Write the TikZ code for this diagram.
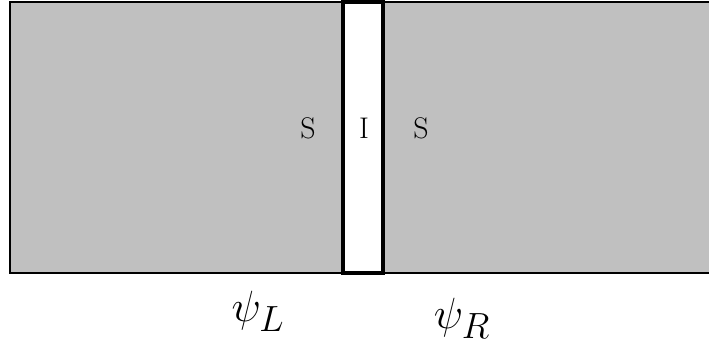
\documentclass[tikz,border=0pt]{standalone}
\definecolor{slabgray}{RGB}{192,192,192}
\begin{document}
\begin{tikzpicture}[x=0.02cm, y=-0.02cm, line width=1.5pt]
    \useasboundingbox (0,0) rectangle (709,345);
    \clip (0,0) rectangle (709,345);
    \tikzset{slab/.style={draw=black, fill=slabgray},
             lbl/.style={font=\fontsize{17}{20}\selectfont},
             wave/.style={font=\fontsize{28}{32}\selectfont}}

    % Left superconductor
    \draw[slab] (10,2) rectangle (343,273);
    % Right superconductor (runs past the edge)
    \draw[slab] (383,2) rectangle (730,273);
    % Insulating barrier
    \draw[fill=white, line width=2.2pt] (343,2) rectangle (383,273);

    % Layer labels
    \node[lbl] (sl) at (308,128) {S};
    \node[lbl] (ins) at (364,128) {I};
    \node[lbl] (sr) at (421,128) {S};

    % Wave functions
    \node[wave] (psil) at (258,311) {$\psi_L$};
    \node[wave] (psir) at (462,318) {$\psi_R$};
\end{tikzpicture}
\end{document}
